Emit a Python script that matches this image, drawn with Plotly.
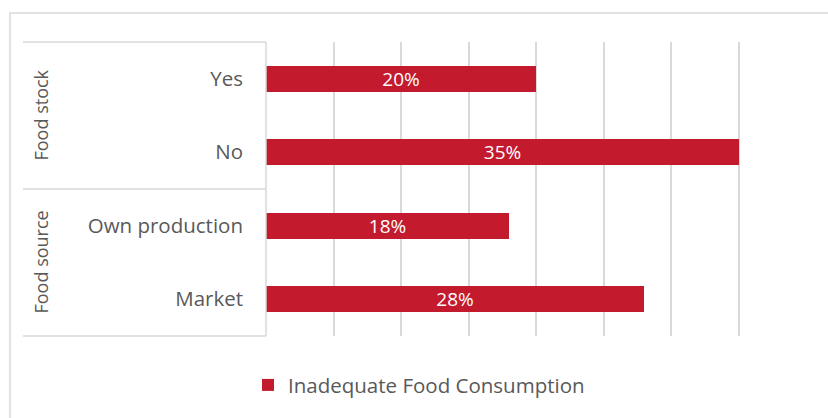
import plotly.graph_objects as go

# Categories listed top to bottom, with their group labels
categories = ["Yes", "No", "Own production", "Market"]
groups = ["Food stock", "Food stock", "Food source", "Food source"]
group_names = ["Food stock", "Food source"]
values = [20, 35, 18, 28]
series_name = "Inadequate Food Consumption"

BAR_COLOR = "#C41A2E"
GRID = "#D9D9D9"
TEXT = "#595959"
FONT = "Open Sans"

fig = go.Figure()
fig.add_trace(go.Bar(
    y=categories,
    x=values,
    orientation="h",
    name=series_name,
    marker=dict(color=BAR_COLOR, line=dict(width=0)),
    width=0.355,
    text=[f"{v}%" for v in values],
    textposition="inside",
    insidetextanchor="middle",
    constraintext="none",
    textfont=dict(color="white", size=19, family=FONT),
    showlegend=True,
))

fig.update_layout(
    width=828, height=418,
    margin=dict(l=266, r=22, t=42, b=82),
    paper_bgcolor="white", plot_bgcolor="white",
    font=dict(family=FONT, color=TEXT, size=18),
    showlegend=True,
    legend=dict(orientation="h", x=(248 - 266) / 540, xanchor="left", y=-0.167, yanchor="middle",
                font=dict(size=20.5, color=TEXT, family=FONT),
                itemwidth=30),
    xaxis=dict(range=[0, 40], dtick=5, showticklabels=False, showgrid=True,
               gridcolor=GRID, gridwidth=1.5, zeroline=False, showline=False, fixedrange=True),
    yaxis=dict(categoryorder="array", categoryarray=categories[::-1],
               showgrid=False, zeroline=False, showline=False, ticks="",
               ticklabelstandoff=22, tickfont=dict(size=20.5, color=TEXT, family=FONT)),
    bargap=0,
)

# Category label box: horizontal separators and the right edge
box_left = (23 - 266) / 540
line = dict(color=GRID, width=1.5)
for yp in [1.0, 0.5, 0.0]:
    fig.add_shape(type="line", xref="paper", yref="paper",
                  x0=box_left, x1=0, y0=yp, y1=yp, line=line)
fig.add_shape(type="line", xref="paper", yref="paper", x0=0, x1=0, y0=0, y1=1, line=line)

# Group labels, rotated
for i, g in enumerate(group_names):
    fig.add_annotation(xref="paper", yref="paper", x=(40 - 266) / 540, y=0.75 - 0.5 * i,
                       text=g, textangle=-90, showarrow=False,
                       font=dict(size=18, color=TEXT, family=FONT),
                       xanchor="center", yanchor="middle")

# Outer chart frame
fig.add_shape(type="rect", xref="paper", yref="paper",
              x0=(10 - 266) / 540, x1=1.2, y0=-0.5, y1=(336 - 13) / 294,
              line=dict(color=GRID, width=1.5), layer="below")

fig.write_html("out.html")
